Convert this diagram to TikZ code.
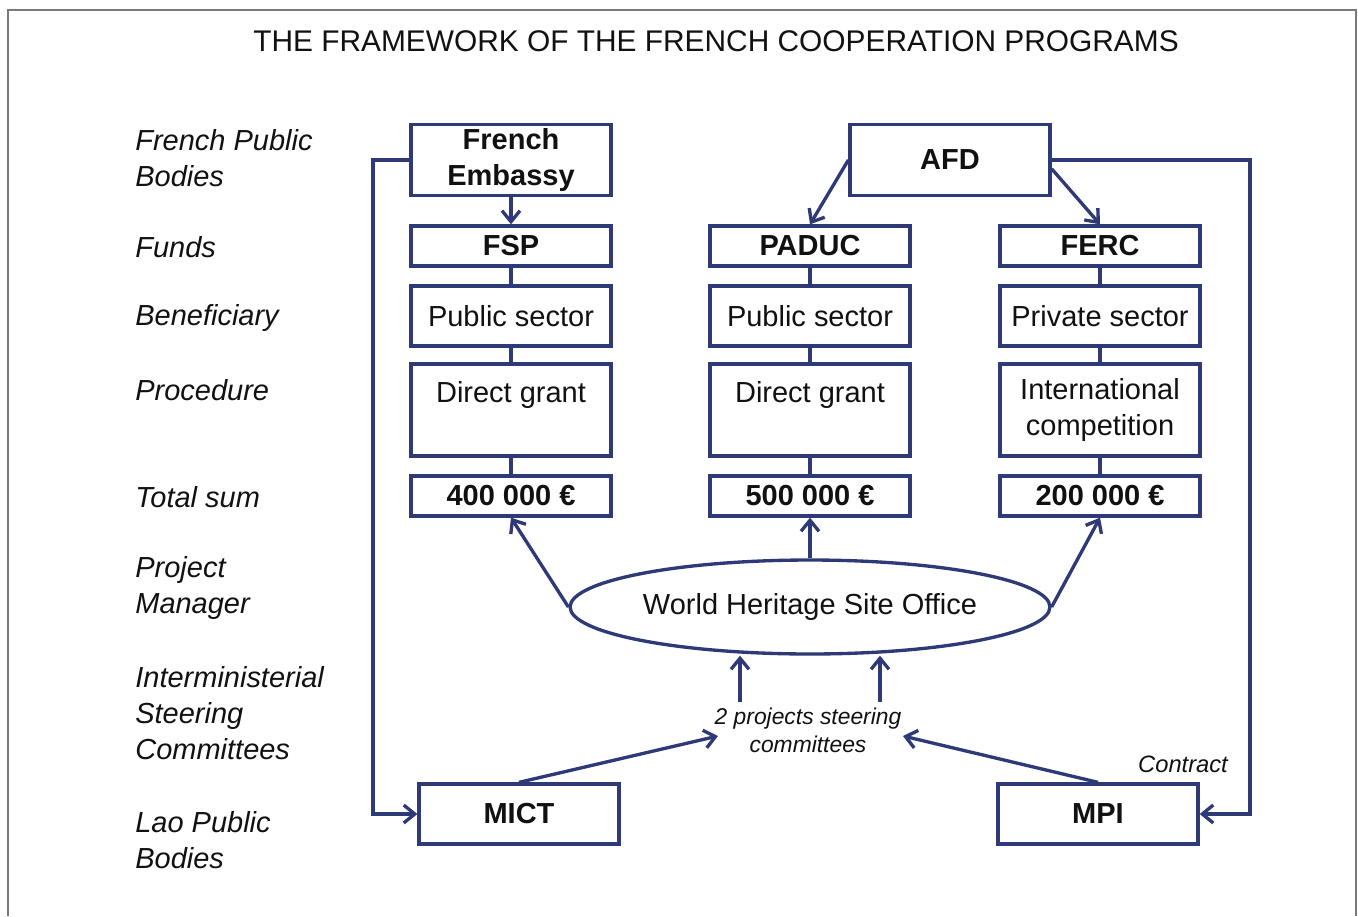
\documentclass[tikz,border=0pt]{standalone}
\usepackage{fontspec}
\setmainfont{Liberation Sans}
\usetikzlibrary{shapes.geometric,arrows.meta}
\definecolor{navy}{HTML}{2E3A78}
\definecolor{framegray}{HTML}{7A7A7A}
\definecolor{ink}{HTML}{111111}
\tikzset{
  orgbox/.style={draw=navy, line width=1.9pt, minimum width=4cm, inner sep=0pt,
    align=center, text=ink, font=\fontsize{16.5}{21}\selectfont},
  headbox/.style={orgbox, minimum height=1.42cm, font=\fontsize{16.5}{21}\selectfont\bfseries},
  fundbox/.style={orgbox, minimum height=0.8cm, font=\fontsize{16.5}{21}\selectfont\bfseries},
  benbox/.style={orgbox, minimum height=1.2cm},
  procbox/.style={orgbox, minimum height=1.84cm},
  sumbox/.style={fundbox},
  laobox/.style={orgbox, minimum height=1.2cm, font=\fontsize{16.5}{21}\selectfont\bfseries},
  office/.style={ellipse, draw=navy, line width=1.9pt, minimum width=9.6cm,
    minimum height=1.88cm, inner sep=0pt, text=ink, font=\fontsize{16.5}{21}\selectfont},
  link/.style={draw=navy, line width=1.9pt},
  arr/.style={link, -{Straight Barb[length=2.2mm,width=3.6mm]}},
  lab/.style={anchor=west, align=left, inner sep=0pt, text=ink,
    font=\fontsize{16.5}{20.5}\selectfont\itshape},
  note/.style={align=center, inner sep=0pt, text=ink, font=\fontsize{13}{16}\selectfont\itshape}
}
\begin{document}
\begin{tikzpicture}[x=0.02cm, y=-0.02cm]
  \useasboundingbox (0,0) rectangle (1358,916);
  \draw[framegray, line width=0.9pt] (8,916) -- (8,10) -- (1356,10) -- (1356,916);

  \node[text=ink, font=\fontsize{17}{20}\selectfont] (title) at (716,41)
    {THE FRAMEWORK OF THE FRENCH COOPERATION PROGRAMS};

  % row labels
  \node[lab] (lfrench) at (135,158) {French Public\\Bodies};
  \node[lab] (lfunds) at (135,247) {Funds};
  \node[lab] (lbenef) at (135,318) {Beneficiary};
  \node[lab] (lproc) at (135,390) {Procedure};
  \node[lab] (ltotal) at (135,497) {Total sum};
  \node[lab] (lmanager) at (135,588) {Project\\Manager};
  \node[lab] (lsteer) at (135,713) {Interministerial\\Steering\\Committees};
  \node[lab] (llao) at (135,840) {Lao Public\\Bodies};

  % French public bodies
  \node[headbox] (emb) at (511,160) {French\\Embassy};
  \node[headbox] (afd) at (950,160) {AFD};

  % three funds
  \node[fundbox] (fsp) at (511,246) {FSP};
  \node[fundbox] (paduc) at (810,246) {PADUC};
  \node[fundbox] (ferc) at (1100,246) {FERC};

  \node[benbox] (ben1) at (511,316) {Public sector};
  \node[benbox] (ben2) at (810,316) {Public sector};
  \node[benbox] (ben3) at (1100,316) {Private sector};

  \node[procbox] (proc1) at (511,410) {Direct grant\\ \mbox{}};
  \node[procbox] (proc2) at (810,410) {Direct grant\\ \mbox{}};
  \node[procbox] (proc3) at (1100,410) {International\\competition};

  \node[sumbox] (tot1) at (511,496) {400 000 €};
  \node[sumbox] (tot2) at (810,496) {500 000 €};
  \node[sumbox] (tot3) at (1100,496) {200 000 €};

  \foreach \c in {1,2,3} {
    \draw[link] (ben\c) -- (proc\c);
    \draw[link] (proc\c) -- (tot\c);
  }
  \draw[link] (fsp) -- (ben1);
  \draw[link] (paduc) -- (ben2);
  \draw[link] (ferc) -- (ben3);

  \draw[arr] (emb) -- (fsp);
  \draw[arr] (afd.west) -- (paduc.north);
  \draw[arr] ([yshift=-5pt]afd.east) -- (ferc.north);

  % project manager
  \node[office] (whs) at (810,607) {World Heritage Site Office};
  \draw[arr] (whs.west) -- (tot1.south);
  \draw[arr] (whs.north) -- (tot2.south);
  \draw[arr] (whs.east) -- (tot3.south);

  % steering committees
  \node[note] (steer) at (808,730) {2 projects steering\\committees};
  \coordinate (s1) at (740,702);
  \coordinate (s2) at (880,702);
  \draw[arr] (s1) -- (s1 |- whs.south);
  \draw[arr] (s2) -- (s2 |- whs.south);

  % Lao public bodies
  \node[laobox] (mict) at (519,814) {MICT};
  \node[laobox] (mpi) at (1098,814) {MPI};
  \coordinate (e1) at (718,736);
  \coordinate (e2) at (903,736);
  \draw[arr] (mict.north) -- (e1);
  \draw[arr] (mpi.north) -- (e2);

  \coordinate (lbend) at (373,814);
  \coordinate (rbend) at (1250,814);
  \draw[arr] (emb.west) -| (lbend) -- (mict.west);
  \draw[arr] (afd.east) -| (rbend) -- (mpi.east);
  \node[note, font=\fontsize{13.5}{16}\selectfont\itshape] (contract) at (1183,764) {Contract};
\end{tikzpicture}
\end{document}
